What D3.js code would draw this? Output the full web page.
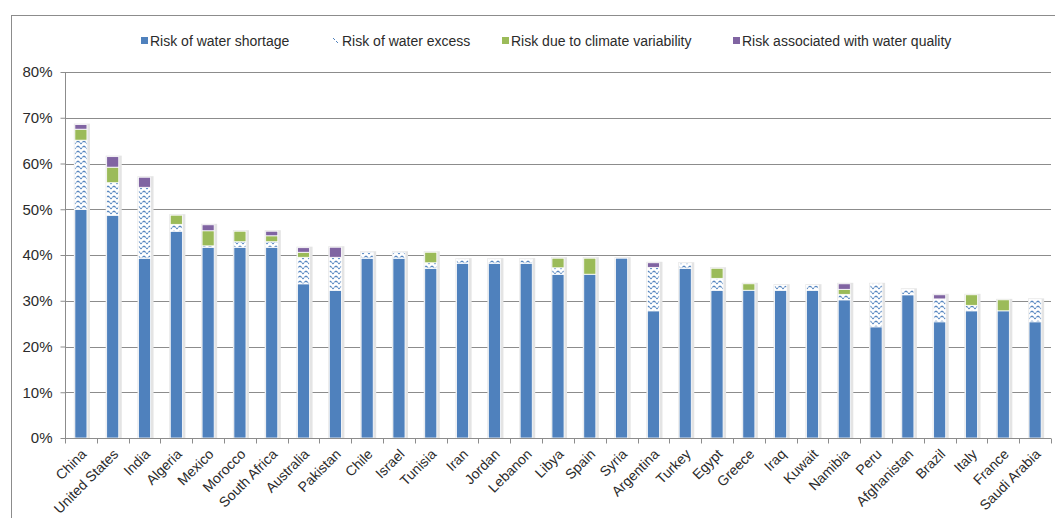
<!DOCTYPE html>
<html>
<head>
<meta charset="utf-8">
<script src="https://cdn.jsdelivr.net/npm/d3@7"></script>
<style>
  html, body { margin: 0; padding: 0; background: #fff; }
  svg text { font-family: "Liberation Sans", Arial, sans-serif; }
</style>
</head>
<body>
<svg id="chart" width="1055" height="518"></svg>
<script>
// Water-risk components by country (share of total, %)
const countries = ["China","United States","India","Algeria","Mexico","Morocco","South Africa","Australia","Pakistan","Chile","Israel","Tunisia","Iran","Jordan","Lebanon","Libya","Spain","Syria","Argentina","Turkey","Egypt","Greece","Iraq","Kuwait","Namibia","Peru","Afghanistan","Brazil","Italy","France","Saudi Arabia"];
const shortage = [50.0,48.7,39.3,45.2,41.7,41.7,41.7,33.7,32.3,39.3,39.3,37.1,38.2,38.2,38.2,35.8,35.8,39.3,27.8,37.1,32.3,32.3,32.3,32.3,30.2,24.3,31.3,25.4,27.8,27.8,25.4];
const excess   = [15.1,7.1,15.5,1.5,0.3,1.2,1.2,5.8,7.2,1.3,1.3,1.2,0.9,0.9,0.9,1.4,0.0,0.0,9.5,1.1,2.6,0.0,1.1,1.1,1.2,9.4,1.2,5.0,1.2,0.0,4.9];
const climate  = [2.4,3.4,0.0,2.0,3.3,2.3,1.3,1.1,0.0,0.0,0.0,2.3,0.0,0.0,0.0,2.1,3.5,0.0,0.0,0.0,2.2,1.4,0.0,0.0,1.1,0.0,0.0,0.0,2.3,2.4,0.0];
const quality  = [1.0,2.3,2.2,0.0,1.3,0.0,1.0,1.0,2.2,0.0,0.0,0.0,0.0,0.0,0.0,0.0,0.0,0.0,1.0,0.0,0.0,0.0,0.0,0.0,1.2,0.0,0.0,0.9,0.0,0.0,0.0];
const seriesNames = ["Risk of water shortage","Risk of water excess","Risk due to climate variability","Risk associated with water quality"];
const yTicks = [0,10,20,30,40,50,60,70,80];

const svg = d3.select("#chart");
const margin = {left: 65, right: 1051, top: 72, bottom: 438};

const blue = "#4f81bd", green = "#9bbb59", purple = "#8064a2";
const textColor = "#2b2b2b";

// zigzag fill used for the "water excess" segments
const defs = svg.append("defs");
const pat = defs.append("pattern")
  .attr("id", "zigzag")
  .attr("patternUnits", "userSpaceOnUse")
  .attr("width", 6).attr("height", 5);
pat.append("rect").attr("width", 6).attr("height", 5).attr("fill", "#fff");
pat.append("path")
  .attr("d", "M0,1 L3,3.6 L6,1")
  .attr("fill", "none").attr("stroke", blue).attr("stroke-width", 1.2)
  .attr("stroke-dasharray", "2.2,0.7");

// outer chart frame
svg.append("rect")
  .attr("x", 11.5).attr("y", 15.5).attr("width", 1060).attr("height", 520)
  .attr("fill", "none").attr("stroke", "#8c8c8c").attr("stroke-width", 1);

const x = d3.scaleBand().domain(countries).range([margin.left, margin.right]).paddingInner(0.62).paddingOuter(0.31);
const xTick = d3.scaleBand().domain(countries).range([margin.left, margin.right]);
const y = d3.scaleLinear().domain([0, 80]).range([margin.bottom, margin.top]);

// gridlines
svg.append("g").selectAll("line").data(yTicks.filter(d => d > 0)).join("line")
  .attr("x1", margin.left).attr("x2", margin.right)
  .attr("y1", d => Math.round(y(d)) + 0.5).attr("y2", d => Math.round(y(d)) + 0.5)
  .attr("stroke", "#8c8c8c").attr("stroke-width", 1);

// stacked bars
const rows = countries.map((c, i) => ({country: c, s0: shortage[i], s1: excess[i], s2: climate[i], s3: quality[i]}));
const stack = d3.stack().keys(["s0","s1","s2","s3"]);
const layers = stack(rows);
const fills = [blue, "url(#zigzag)", green, purple];

// soft shadow behind each bar
svg.append("g").selectAll("rect").data(rows).join("rect")
  .attr("x", d => x(d.country) - 1)
  .attr("y", d => y(d.s0 + d.s1 + d.s2 + d.s3) - 1)
  .attr("width", x.bandwidth() + 4)
  .attr("height", d => y(0) - y(d.s0 + d.s1 + d.s2 + d.s3) + 1)
  .attr("fill", "#e4e4e4");

layers.forEach((layer, k) => {
  svg.append("g").selectAll("rect").data(layer.filter(d => d[1] - d[0] > 0)).join("rect")
    .attr("x", d => x(d.data.country))
    .attr("y", d => y(d[1]))
    .attr("width", x.bandwidth())
    .attr("height", d => y(d[0]) - y(d[1]))
    .attr("fill", fills[k])
    .attr("stroke", "#fff").attr("stroke-width", 0.8);
});

// y axis
const yAxis = svg.append("g").attr("transform", `translate(${margin.left + 0.5},0)`)
  .call(d3.axisLeft(y).tickValues(yTicks).tickFormat(d => d + "%").tickSize(5).tickPadding(8));
yAxis.select(".domain").attr("stroke", "#8c8c8c").attr("d", `M0,${margin.top}V${margin.bottom}`);
yAxis.selectAll(".tick line").attr("stroke", "#8c8c8c");
yAxis.selectAll(".tick text").attr("font-size", 15).attr("fill", textColor);

// x axis with ticks on category boundaries
const xg = svg.append("g").attr("transform", `translate(0,${margin.bottom + 0.5})`);
xg.append("line").attr("x1", margin.left).attr("x2", margin.right).attr("stroke", "#8c8c8c");
xg.selectAll("line.t").data(countries.concat(["end"])).join("line").attr("class", "t")
  .attr("x1", (d, i) => Math.round(margin.left + i * xTick.step()) + 0.5)
  .attr("x2", (d, i) => Math.round(margin.left + i * xTick.step()) + 0.5)
  .attr("y1", 0).attr("y2", 5).attr("stroke", "#8c8c8c");
xg.selectAll("text").data(countries).join("text")
  .attr("transform", d => `translate(${xTick(d) + xTick.bandwidth() / 2 + 3},${13}) rotate(-45)`)
  .attr("text-anchor", "end").attr("dy", "0.35em")
  .attr("font-size", 14).attr("fill", textColor)
  .text(d => d);

// legend
const legendX = [141, 333, 502, 733];
const lg = svg.append("g");
seriesNames.forEach((name, k) => {
  const g = lg.append("g").attr("transform", `translate(${legendX[k]},41)`);
  if (k === 1) {
    g.append("path").attr("d", "M0,-3 L2,-1 M3,0 L5,2").attr("stroke", blue).attr("stroke-width", 1).attr("fill", "none");
  } else {
    g.append("rect").attr("x", 0).attr("y", -4).attr("width", 7).attr("height", 7).attr("fill", fills[k]);
  }
  g.append("text").attr("x", 9).attr("y", 0).attr("dy", "0.35em")
    .attr("font-size", 14).attr("fill", textColor).text(name);
});
</script>
</body>
</html>
